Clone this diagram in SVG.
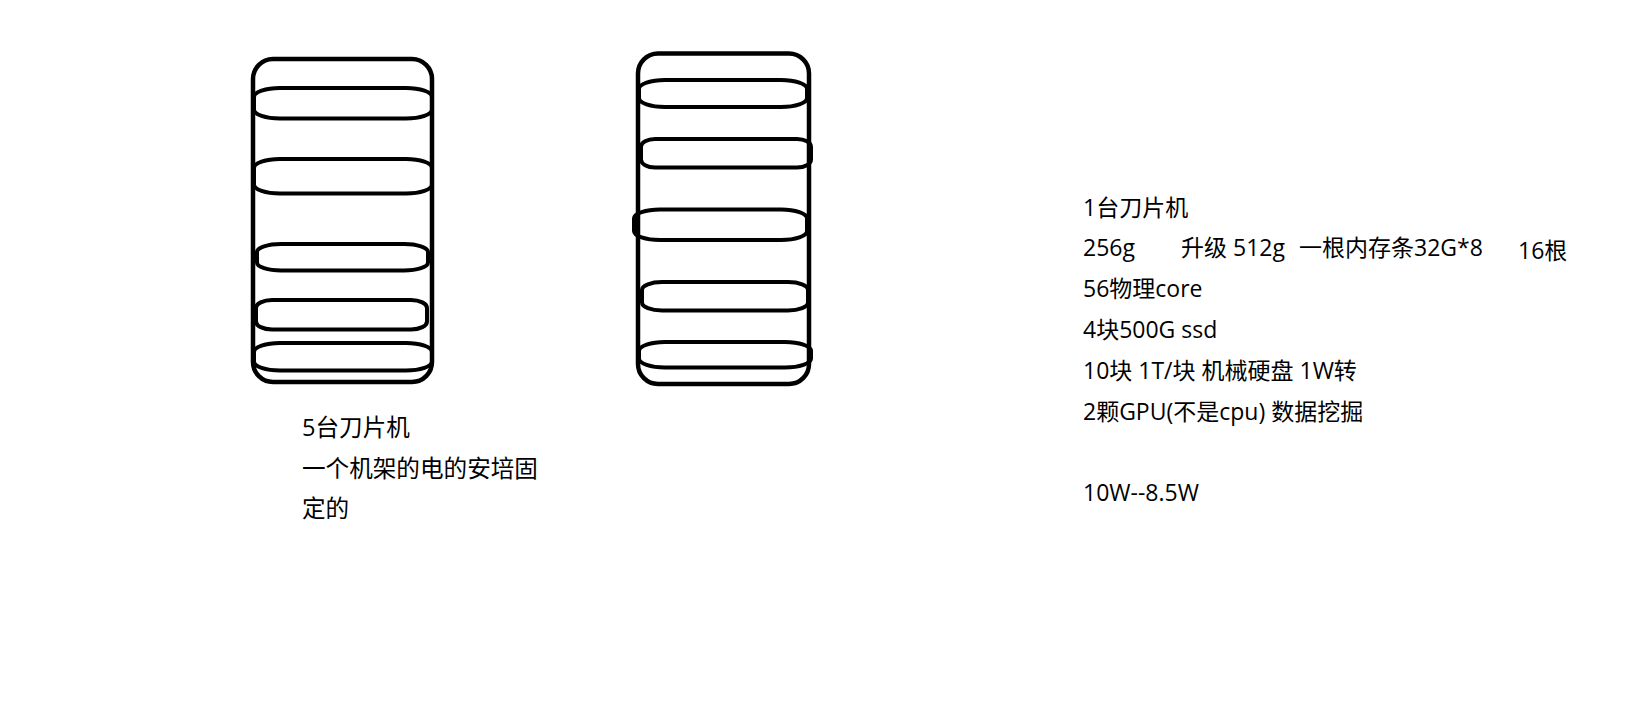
<svg xmlns="http://www.w3.org/2000/svg" width="1630" height="718" viewBox="0 0 1630 718">
<style>
.o{fill:none;stroke:#000;stroke-width:4.5}
.s{fill:none;stroke:#000;stroke-width:4}
text{font-family:"Open Sans","Noto Sans CJK SC",sans-serif;font-size:23px;fill:#000}
#label-left text{font-size:23.6px}
</style>
<rect width="1630" height="718" fill="#fff"/>
<g id="rack-left">
<rect class="o" x="253" y="59" width="179" height="323" rx="20" ry="20"/>
<rect class="s" x="254" y="88" width="178" height="30.5" rx="26" ry="9"/>
<rect class="s" x="254" y="159" width="178" height="34.5" rx="26" ry="9"/>
<rect class="s" x="257" y="244" width="171" height="26.5" rx="24" ry="8"/>
<rect class="s" x="256" y="300" width="171" height="29.5" rx="16" ry="8"/>
<rect class="s" x="254" y="343" width="178" height="27.5" rx="26" ry="9"/>
</g>
<g id="rack-right">
<rect class="o" x="638" y="53.5" width="171" height="330.5" rx="20" ry="20"/>
<rect class="s" x="639" y="80" width="168" height="27" rx="26" ry="9"/>
<rect class="s" x="641" y="139" width="170" height="28.5" rx="14" ry="8"/>
<rect class="s" x="634" y="209.5" width="173" height="30.5" rx="26" ry="9"/>
<rect class="s" x="642" y="282" width="166" height="28.5" rx="20" ry="8"/>
<rect class="s" x="639" y="342" width="172" height="25.5" rx="26" ry="9"/>
</g>
<g id="label-left">
<text x="302" y="436">5台刀片机</text>
<text x="302" y="477">一个机架的电的安培固</text>
<text x="302" y="517">定的</text>
</g>
<g id="label-right">
<text x="1083" y="216">1台刀片机</text>
<text x="1083" y="256">256g</text>
<text x="1181" y="256">升级 512g</text>
<text x="1299" y="256">一根内存条32G*8</text>
<text x="1518" y="259">16根</text>
<text x="1083" y="297">56物理core</text>
<text x="1083" y="338">4块500G ssd</text>
<text x="1083" y="379">10块 1T/块 机械硬盘 1W转</text>
<text x="1083" y="420">2颗GPU(不是cpu) 数据挖掘</text>
<text x="1083" y="501">10W--8.5W</text>
</g>
</svg>
